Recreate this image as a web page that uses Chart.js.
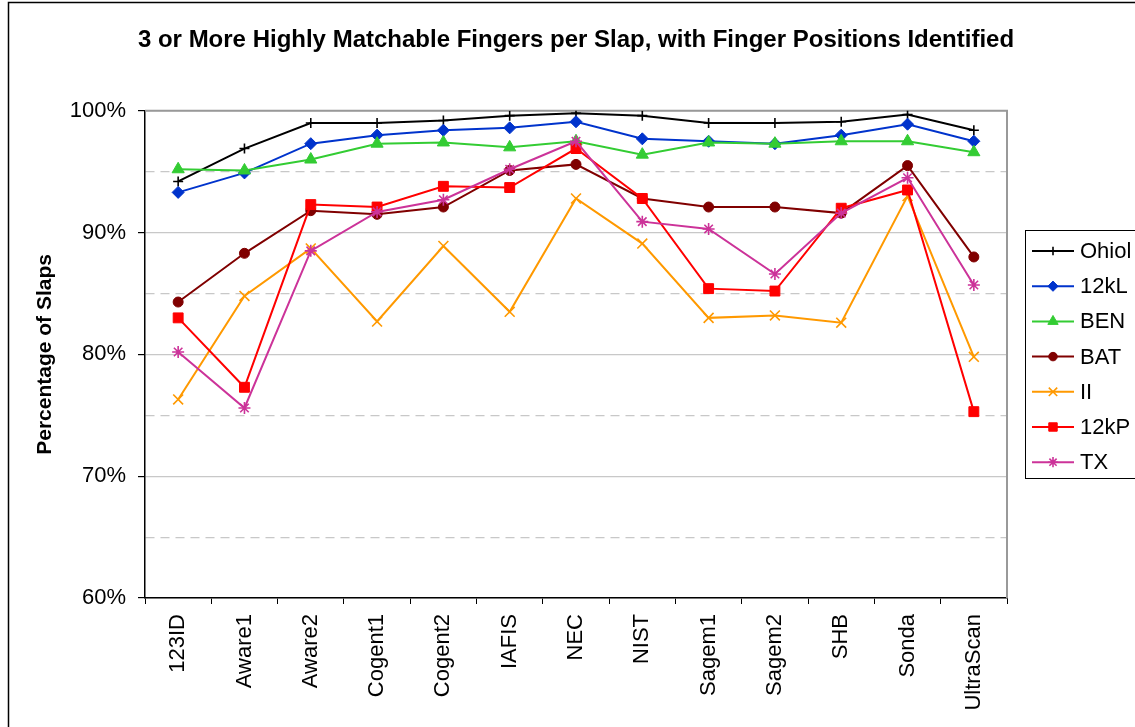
<!DOCTYPE html>
<html>
<head>
<meta charset="utf-8">
<script src="https://cdn.jsdelivr.net/npm/chart.js@4.4.1/dist/chart.umd.min.js"></script>
<style>
  html, body { margin: 0; padding: 0; background: #fff; }
  #wrap { width: 1135px; height: 727px; position: relative; }
</style>
</head>
<body>
<div id="wrap"><canvas id="grafico" width="1135" height="727"></canvas></div>
<script>
// --- datos ---
const categorias = ['123ID', 'Aware1', 'Aware2', 'Cogent1', 'Cogent2', 'IAFIS', 'NEC', 'NIST', 'Sagem1', 'Sagem2', 'SHB', 'Sonda', 'UltraScan'];

const ohiol = [94.2, 96.9, 99.0, 99.0, 99.2, 99.6, 99.8, 99.6, 99.0, 99.0, 99.1, 99.7, 98.4];
const l12k  = [93.3, 94.9, 97.3, 98.0, 98.4, 98.6, 99.1, 97.7, 97.5, 97.3, 98.0, 98.9, 97.5];
const ben   = [95.2, 95.1, 96.0, 97.3, 97.4, 97.0, 97.5, 96.4, 97.4, 97.3, 97.5, 97.5, 96.6];
const bat   = [84.3, 88.3, 91.8, 91.5, 92.1, 95.1, 95.6, 92.8, 92.1, 92.1, 91.6, 95.5, 88.0];
const ii    = [76.3, 84.8, 88.7, 82.7, 88.9, 83.5, 92.8, 89.1, 83.0, 83.2, 82.6, 93.0, 79.8];
const p12k  = [83.0, 77.3, 92.3, 92.1, 93.8, 93.7, 96.9, 92.8, 85.4, 85.2, 92.0, 93.5, 75.3];
const tx    = [80.2, 75.6, 88.5, 91.7, 92.7, 95.2, 97.5, 90.9, 90.3, 86.6, 91.6, 94.5, 85.7];

const nombresSeries = ['Ohiol', '12kL', 'BEN', 'BAT', 'II', '12kP', 'TX'];
const valoresSeries = [ohiol, l12k, ben, bat, ii, p12k, tx];

const ticksY = [60, 70, 80, 90, 100];

// --- estilos de cada serie (color, marcador, tamaño) ---
const estilos = [
    { color: '#000000', punto: 'cross',    radio: 5, relleno: '#000000' },
    { color: '#0033CC', punto: 'rectRot',  radio: 6, relleno: '#0033CC' },
    { color: '#33CC33', punto: 'triangle', radio: 7, relleno: '#33CC33' },
    { color: '#800000', punto: 'circle',   radio: 5, relleno: '#800000' },
    { color: '#FF9900', punto: 'crossRot', radio: 7, relleno: '#FF9900' },
    { color: '#FF0000', punto: 'rect',     radio: 7, relleno: '#FF0000' },
    { color: '#CC3399', punto: 'star',     radio: 6, relleno: '#CC3399' }
];

const FUENTE = "'Liberation Sans', Arial, sans-serif";

const datasets = nombresSeries.map((nombre, i) => ({
    label: nombre,
    data: valoresSeries[i],
    borderColor: estilos[i].color,
    backgroundColor: estilos[i].relleno,
    borderWidth: 2,
    pointStyle: estilos[i].punto,
    pointRadius: estilos[i].radio,
    pointBorderWidth: (estilos[i].punto.indexOf('cross') === 0 || estilos[i].punto === 'star') ? 1.6 : 1,
    pointBackgroundColor: estilos[i].relleno,
    pointBorderColor: estilos[i].color,
    tension: 0,
    fill: false,
    order: nombresSeries.length - i // las ultimas series quedan encima
}));

// marco exterior y borde gris del area de trazado
const pluginMarco = {
    id: 'marco',
    beforeDraw(chart) {
        const c = chart.ctx;
        c.save();
        c.fillStyle = '#fff';
        c.fillRect(0, 0, chart.width, chart.height);
        c.strokeStyle = '#000';
        c.lineWidth = 1.5;
        c.strokeRect(8.5, 2.5, 1400, 1000);
        c.restore();
    },
    beforeDatasetsDraw(chart) {
        const a = chart.chartArea;
        const c = chart.ctx;
        c.save();
        c.strokeStyle = '#999';
        c.lineWidth = 2;
        c.beginPath();
        c.moveTo(a.left, a.top);
        c.lineTo(a.right, a.top);
        c.lineTo(a.right, a.bottom);
        c.stroke();
        c.restore();
    }
};

// leyenda con linea + marcador como en Excel
const pluginLeyenda = {
    id: 'leyendaExcel',
    afterDraw(chart) {
        const c = chart.ctx;
        const x0 = 1025, y0 = 230, alto = 248;
        c.save();
        c.fillStyle = '#fff';
        c.fillRect(x0, y0, 200, alto);
        c.strokeStyle = '#000';
        c.lineWidth = 1;
        c.strokeRect(x0 + 0.5, y0 + 0.5, 200, alto);
        c.font = '22px ' + FUENTE;
        c.textBaseline = 'middle';
        chart.data.datasets.forEach((ds, i) => {
            const y = 251 + i * 35.2;
            c.strokeStyle = ds.borderColor;
            c.lineWidth = 2;
            c.beginPath();
            c.moveTo(1032, y);
            c.lineTo(1074, y);
            c.stroke();
            c.fillStyle = ds.pointBackgroundColor;
            c.strokeStyle = ds.pointBorderColor;
            c.lineWidth = ds.pointBorderWidth;
            Chart.helpers.drawPoint(c, { pointStyle: ds.pointStyle, radius: ds.pointRadius * 0.85, borderWidth: ds.pointBorderWidth }, 1053, y);
            c.fillStyle = '#000';
            c.fillText(ds.label, 1080, y + 1);
        });
        c.restore();
    }
};

const ctx = document.getElementById('grafico').getContext('2d');
const grafico = new Chart(ctx, {
    type: 'line',
    data: { labels: categorias, datasets: datasets },
    options: {
        responsive: false,
        animation: false,
        devicePixelRatio: 1,
        layout: { padding: { left: 17, right: 0, top: 0, bottom: 0 } },
        plugins: {
            legend: { display: false },
            tooltip: { enabled: false },
            title: {
                display: true,
                text: '3 or More Highly Matchable Fingers per Slap, with Finger Positions Identified',
                color: '#000',
                font: { family: FUENTE, size: 24, weight: 'bold', lineHeight: 1.2 },
                padding: { top: 26, bottom: 56 }
            }
        },
        scales: {
            x: {
                type: 'category',
                offset: true,
                afterFit(s) { s.height = 129; },
                grid: { display: true, drawOnChartArea: false, offset: true, tickLength: 6, color: '#000', tickColor: '#000' },
                border: { display: true, color: '#000', width: 1.5 },
                ticks: {
                    color: '#000',
                    font: { family: FUENTE, size: 22 },
                    minRotation: 90,
                    maxRotation: 90,
                    autoSkip: false,
                    padding: 10
                }
            },
            y: {
                min: 60,
                max: 100,
                afterFit(s) { s.width = 128; },
                afterBuildTicks(s) {
                    // lineas cada 5%, etiquetas solo en ticksY
                    const t = [];
                    for (let v = 60; v <= 100; v += 5) t.push({ value: v });
                    s.ticks = t;
                },
                grid: {
                    color: '#c8c8c8',
                    lineWidth: 1.2,
                    tickLength: 7,
                    tickColor: c => (c.tick && ticksY.includes(c.tick.value)) ? '#000' : 'rgba(0,0,0,0)'
                },
                border: {
                    display: true,
                    color: '#000',
                    width: 1.5,
                    dash: c => (c.tick && !ticksY.includes(c.tick.value)) ? [9, 6] : []
                },
                ticks: {
                    color: '#000',
                    font: { family: FUENTE, size: 22 },
                    padding: 12,
                    callback: v => ticksY.includes(v) ? v + '%' : ''
                },
                title: {
                    display: true,
                    text: 'Percentage of Slaps',
                    color: '#000',
                    font: { family: FUENTE, size: 21, weight: 'bold', lineHeight: 1.2 },
                    padding: { top: 16, bottom: 0 }
                }
            },
            derecha: {
                position: 'right',
                display: true,
                afterFit(s) { s.width = 128; },
                grid: { display: false, drawTicks: false },
                border: { display: false },
                ticks: { display: false }
            }
        }
    },
    plugins: [pluginMarco, pluginLeyenda]
});
</script>
</body>
</html>
